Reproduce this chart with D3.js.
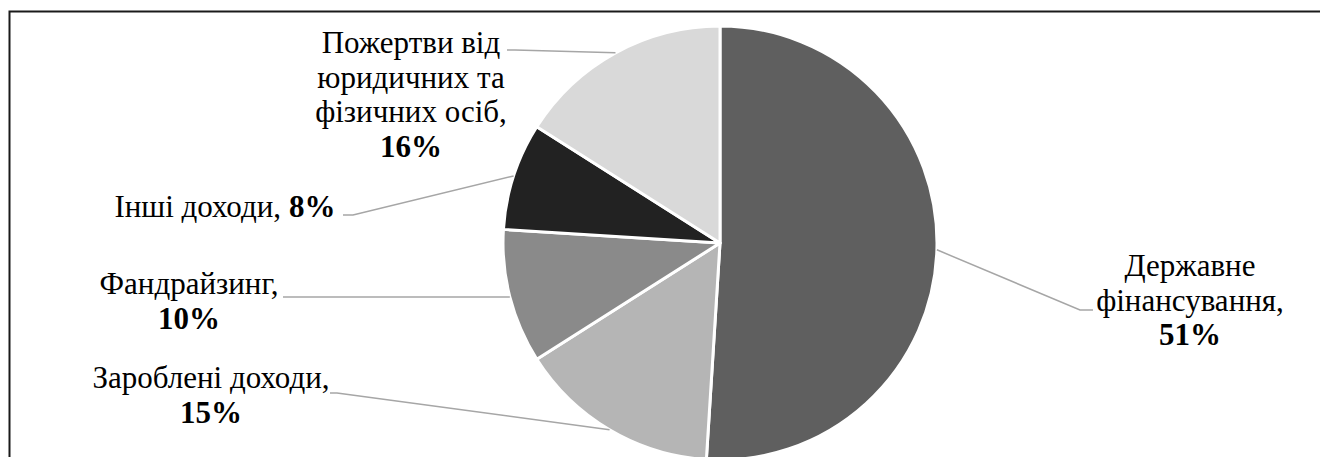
<!DOCTYPE html>
<html>
<head>
<meta charset="utf-8">
<script src="https://cdn.jsdelivr.net/npm/d3@7"></script>
<style>
  body { margin: 0; background: #fff; }
  text { font-family: "Times New Roman", Tinos, "Liberation Serif", "DejaVu Serif", serif; font-size: 31px; }
</style>
</head>
<body>
<div id="chart"></div>
<script>
var width = 1320;
var height = 457;

// data
var categories = ["Державне фінансування", "Зароблені доходи", "Фандрайзинг", "Інші доходи", "Пожертви від юридичних та фізичних осіб"];
var values = [51, 15, 10, 8, 16];
var colors = ["#5f5f5f", "#b5b5b5", "#8a8a8a", "#222222", "#d9d9d9"];

// label lines as broken in the picture; percent added in bold
var labelLines = [
    ["Державне", "фінансування,"],
    ["Зароблені доходи,"],
    ["Фандрайзинг,"],
    ["Інші доходи,"],
    ["Пожертви від", "юридичних та", "фізичних осіб,"]
];

// label layout: x centre, first baseline, leader elbow and end
var labelLayout = [
    {x: 1190, y: 276, inline: false, elbow: [1080, 310], end: [1093, 310]},
    {x: 211, y: 388, inline: false, elbow: [337, 393], end: [330, 393]},
    {x: 189, y: 294, inline: false, elbow: [300, 297], end: [283, 297]},
    {x: 225, y: 217, inline: true, elbow: [353, 215], end: [343, 215]},
    {x: 411, y: 53, inline: false, elbow: [515, 50], end: [507, 50]}
];

var cx = 720, cy = 243, r = 217;
var lineH = 34.5;

var svg = d3.select("#chart").append("svg")
    .attr("width", width)
    .attr("height", height);

// frame
svg.append("path")
    .attr("d", `M9.5,${height} L9.5,11.5 L${width},11.5`)
    .attr("fill", "none")
    .attr("stroke", "#1a1a1a")
    .attr("stroke-width", 2);

var pie = d3.pie().sort(null).value(d => d)(values);
var arc = d3.arc().innerRadius(0).outerRadius(r);
var edge = d3.arc().innerRadius(r).outerRadius(r);

var g = svg.append("g").attr("transform", `translate(${cx},${cy})`);

g.selectAll("path.slice")
    .data(pie)
    .join("path")
    .attr("class", "slice")
    .attr("d", arc)
    .attr("fill", (d, i) => colors[i])
    .attr("stroke", "#fff")
    .attr("stroke-width", 3)
    .attr("stroke-linejoin", "round");

// leader lines
svg.selectAll("polyline.leader")
    .data(pie)
    .join("polyline")
    .attr("class", "leader")
    .attr("points", (d, i) => {
        var c = edge.centroid(d);
        var L = labelLayout[i];
        return [[cx + c[0], cy + c[1]], L.elbow, L.end].map(p => p.join(",")).join(" ");
    })
    .attr("fill", "none")
    .attr("stroke", "#a6a6a6")
    .attr("stroke-width", 1.5);

// labels, one text element per line
pie.forEach((d, i) => {
    var L = labelLayout[i];
    var lines = labelLines[i];
    var pct = values[i] + "%";
    if (L.inline) {
        var a = svg.append("text").attr("y", L.y).text(lines[0]);
        var b = svg.append("text").attr("y", L.y).style("font-weight", "700").text(pct);
        var gap = 8;
        var wa = a.node().getComputedTextLength();
        var wb = b.node().getComputedTextLength();
        var x0 = L.x - (wa + gap + wb) / 2;
        a.attr("x", x0);
        b.attr("x", x0 + wa + gap);
    } else {
        lines.forEach((s, k) => {
            svg.append("text")
                .attr("x", L.x)
                .attr("y", L.y + k * lineH)
                .attr("text-anchor", "middle")
                .text(s);
        });
        svg.append("text")
            .attr("x", L.x)
            .attr("y", L.y + lines.length * lineH)
            .attr("text-anchor", "middle")
            .style("font-weight", "700")
            .text(pct);
    }
});
</script>
</body>
</html>
